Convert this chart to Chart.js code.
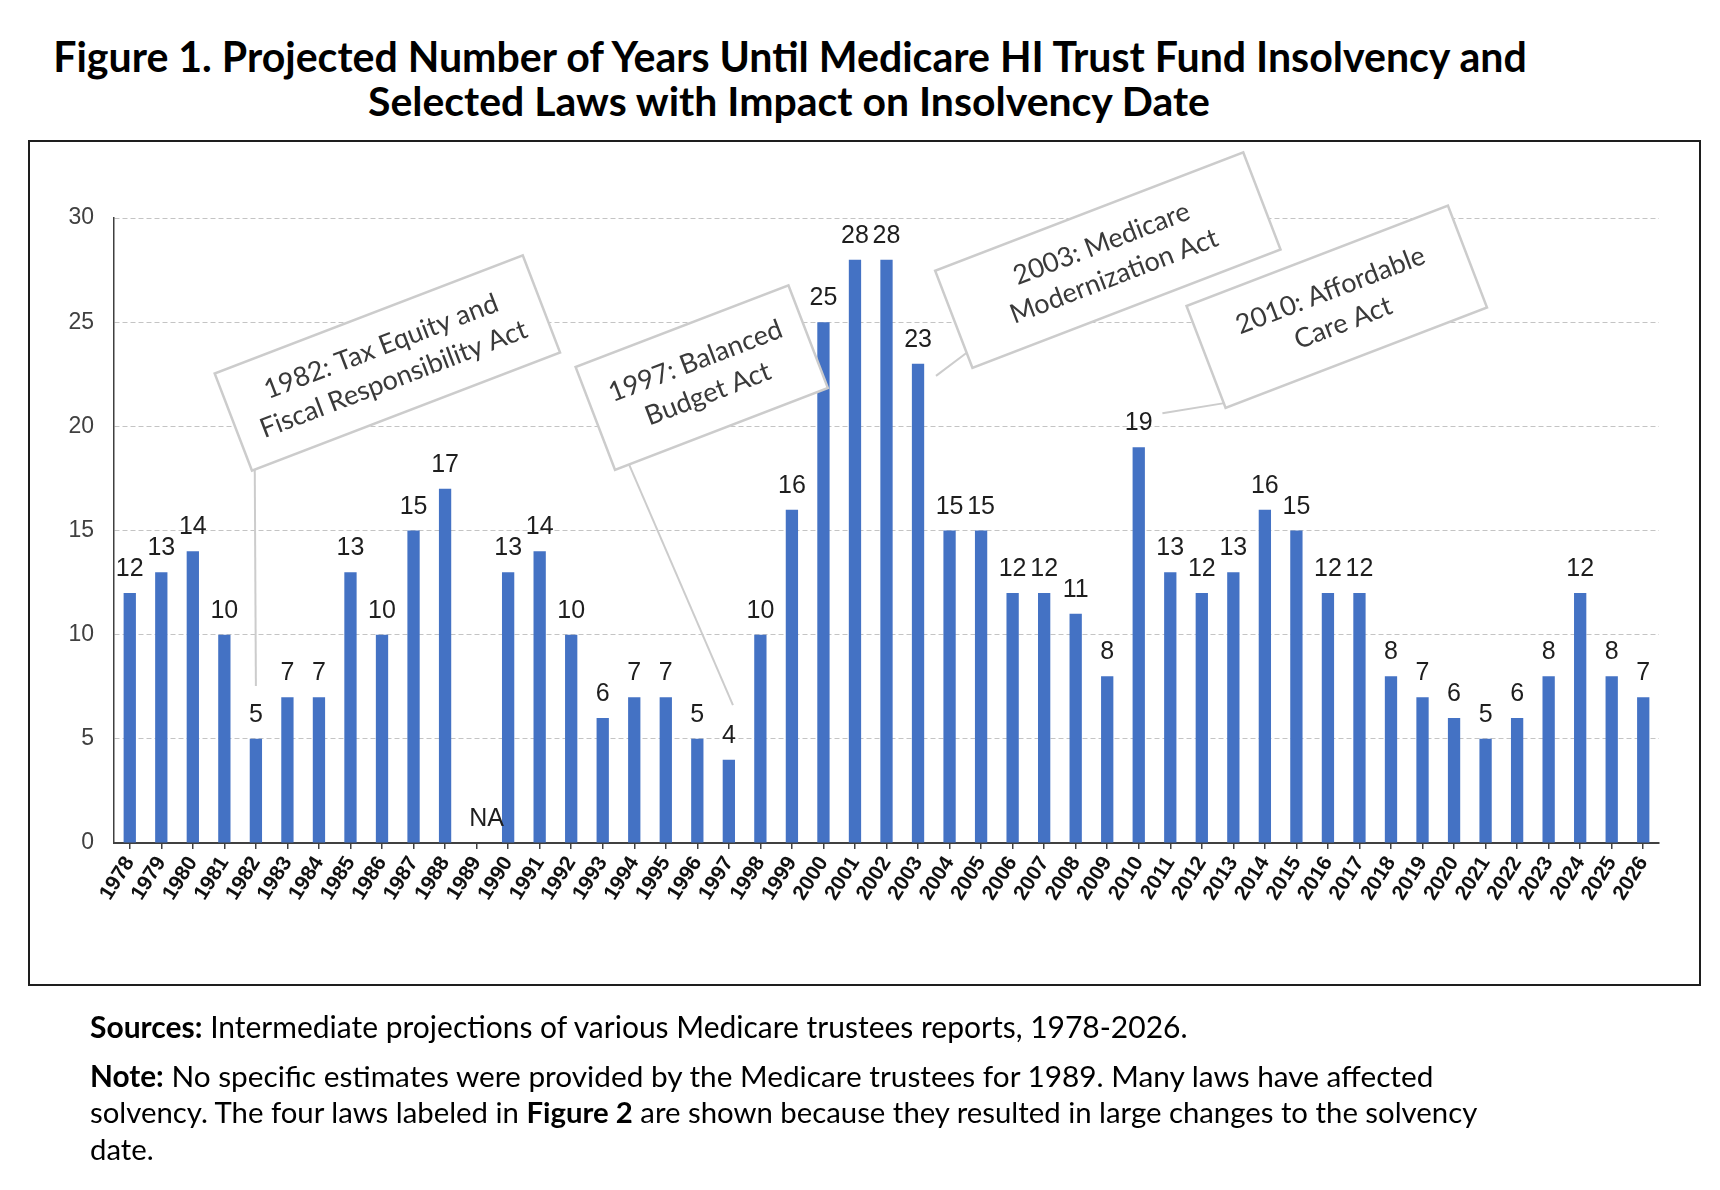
<!DOCTYPE html>
<html>
<head>
<meta charset="utf-8">
<title>Medicare HI Trust Fund Insolvency</title>
<script src="https://cdn.jsdelivr.net/npm/chart.js@4.4.1/dist/chart.umd.min.js"></script>
<style>
  html, body { margin: 0; padding: 0; background: #fff; }
  body { width: 1720px; height: 1190px; position: relative; overflow: hidden; font-family: Lato, "Open Sans", sans-serif; color: #000; }
  .line { position: absolute; white-space: nowrap; line-height: 1; }
  .title { font-weight: 700; }
  #frame { position: absolute; left: 28px; top: 140px; width: 1673px; height: 846px; box-sizing: border-box; border: 2px solid #1e1e1e; }
  #chartWrap { position: absolute; left: 0; top: 0; width: 1720px; height: 1190px; }
</style>
</head>
<body>
<div class="line title" data-w="1474" data-cx="790" data-base="72">Figure 1. Projected Number of Years Until Medicare HI Trust Fund Insolvency and</div>
<div class="line title" data-w="842" data-cx="789" data-base="117">Selected Laws with Impact on Insolvency Date</div>
<div id="frame"></div>
<div id="chartWrap"><canvas id="insolvencyChart" width="1720" height="1190"></canvas></div>
<div class="line note" data-x="90" data-w="1098" data-base="1038"><b>Sources:</b> Intermediate projections of various Medicare trustees reports, 1978-2026.</div>
<div class="line note" data-x="90" data-w="1344" data-base="1087"><b>Note:</b> No specific estimates were provided by the Medicare trustees for 1989. Many laws have affected</div>
<div class="line note" data-x="90" data-w="1388" data-base="1123">solvency. The four laws labeled in <b>Figure 2</b> are shown because they resulted in large changes to the solvency</div>
<div class="line note" data-x="90" data-base="1160" data-same="prev">date.</div>

<script>
// trustees report years
const years = ['1978', '1979', '1980', '1981', '1982', '1983', '1984', '1985', '1986', '1987',
    '1988', '1989', '1990', '1991', '1992', '1993', '1994', '1995', '1996', '1997',
    '1998', '1999', '2000', '2001', '2002', '2003', '2004', '2005', '2006', '2007',
    '2008', '2009', '2010', '2011', '2012', '2013', '2014', '2015', '2016', '2017',
    '2018', '2019', '2020', '2021', '2022', '2023', '2024', '2025', '2026'];

// projected years until insolvency (1989: no estimate)
const yearsToInsolvency = [12, 13, 14, 10, 5, 7, 7, 13, 10, 15,
    17, null, 13, 14, 10, 6, 7, 7, 5, 4,
    10, 16, 25, 28, 28, 23, 15, 15, 12, 12,
    11, 8, 19, 13, 12, 13, 16, 15, 12, 12,
    8, 7, 6, 5, 6, 8, 12, 8, 7];

const yTicks = [0, 5, 10, 15, 20, 25, 30];

const lawYears = ['1982', '1997', '2003', '2010'];
const lawTexts = [
    ['1982: Tax Equity and', 'Fiscal Responsibility Act'],
    ['1997: Balanced', 'Budget Act'],
    ['2003: Medicare', 'Modernization Act'],
    ['2010: Affordable', 'Care Act']
];

// callout layout: box centre in (category index, value), size in px, leader from box-local point to (index, value)
const calloutLayout = [
    { at: [8.17, 23.04], w: 330, h: 104, from: [-162, 52], to: [4, 7.54] },
    { at: [18.14, 22.34], w: 228, h: 110, from: [-99, 55], to: [19.13, 6.62] },
    { at: [31.02, 27.98], w: 330, h: 104, from: [-165, 36], to: [25.57, 22.42] },
    { at: [38.28, 25.74], w: 280, h: 109, from: [-138, 50], to: [32.75, 20.63] }
];
const calloutAngle = -21;

const BLUE = '#4472C4';
const AXIS = '#404040';

let calloutFontSize = 27;

function fitTextLines() {
    let prevSize = 28;
    document.querySelectorAll('.line').forEach(el => {
        const base = 30;
        el.style.fontSize = base + 'px';
        let size;
        if (el.dataset.same === 'prev') {
            size = prevSize;
        } else {
            const w = el.getBoundingClientRect().width;
            size = base * (+el.dataset.w) / w;
        }
        el.style.fontSize = size.toFixed(2) + 'px';
        prevSize = size;
        el.style.top = (+el.dataset.base - 0.887 * size).toFixed(1) + 'px';
        if (el.dataset.cx) {
            const w2 = el.getBoundingClientRect().width;
            el.style.left = (+el.dataset.cx - w2 / 2).toFixed(1) + 'px';
        } else {
            el.style.left = el.dataset.x + 'px';
        }
    });
}

function fitCalloutFont() {
    const c = document.createElement('canvas').getContext('2d');
    c.font = '100px Lato';
    const w = c.measureText('Fiscal Responsibility Act').width;
    calloutFontSize = 100 * 284 / w;
}

const barLabelPlugin = {
    id: 'barLabels',
    afterDatasetsDraw(chart) {
        const { ctx, scales: { x, y } } = chart;
        ctx.save();
        ctx.font = '25px "Liberation Sans", Arial, sans-serif';
        ctx.fillStyle = '#1e1e1e';
        ctx.textAlign = 'center';
        ctx.textBaseline = 'alphabetic';
        yearsToInsolvency.forEach((v, i) => {
            const px = x.getPixelForValue(i);
            if (v === null) {
                ctx.fillText('NA', px + 10, y.getPixelForValue(0) - 17);
            } else {
                ctx.fillText(String(v), px, y.getPixelForValue(v) - 17);
            }
        });
        ctx.restore();
    }
};

const calloutPlugin = {
    id: 'lawCallouts',
    afterDraw(chart) {
        const { ctx, scales: { x, y } } = chart;
        const a = calloutAngle * Math.PI / 180;
        const cos = Math.cos(a), sin = Math.sin(a);
        ctx.save();
        calloutLayout.forEach((c, k) => {
            const cx = x.getPixelForValue(c.at[0]);
            const cy = y.getPixelForValue(c.at[1]);
            const fx = cx + c.from[0] * cos - c.from[1] * sin;
            const fy = cy + c.from[0] * sin + c.from[1] * cos;
            const tx = x.getPixelForValue(c.to[0]);
            const ty = y.getPixelForValue(c.to[1]);

            ctx.strokeStyle = '#cccccc';
            ctx.lineWidth = 2;
            ctx.beginPath();
            ctx.moveTo(fx, fy);
            ctx.lineTo(tx, ty);
            ctx.stroke();

            ctx.save();
            ctx.translate(cx, cy);
            ctx.rotate(a);
            ctx.fillStyle = '#fff';
            ctx.fillRect(-c.w / 2, -c.h / 2, c.w, c.h);
            ctx.lineWidth = 2.5;
            ctx.strokeStyle = '#cccccc';
            ctx.strokeRect(-c.w / 2, -c.h / 2, c.w, c.h);
            ctx.fillStyle = '#3a3a3a';
            ctx.font = calloutFontSize.toFixed(2) + 'px Lato';
            ctx.textAlign = 'center';
            ctx.textBaseline = 'middle';
            const lines = lawTexts[k];
            lines.forEach((t, n) => ctx.fillText(t, 0, (n - (lines.length - 1) / 2) * 35));
            ctx.restore();
        });
        ctx.restore();
    }
};

function drawChart() {
    new Chart(document.getElementById('insolvencyChart'), {
        type: 'bar',
        data: {
            labels: years,
            datasets: [{
                label: 'Years until insolvency',
                data: yearsToInsolvency,
                backgroundColor: BLUE,
                borderWidth: 0,
                barPercentage: 0.39,
                categoryPercentage: 1.0
            }]
        },
        options: {
            responsive: false,
            animation: false,
            devicePixelRatio: 1,
            layout: { padding: { top: 218, right: 61, left: 0, bottom: 247 } },
            plugins: { legend: { display: false }, tooltip: { enabled: false } },
            scales: {
                x: {
                    afterFit: s => { s.height = 100; },
                    grid: { display: true, drawOnChartArea: false, drawTicks: true, tickLength: 6, color: AXIS, lineWidth: 1.5, offset: false },
                    border: { display: true, color: AXIS, width: 2 },
                    ticks: {
                        autoSkip: false, maxRotation: 58, minRotation: 58, padding: 3,
                        color: '#111',
                        font: { family: '"Liberation Sans", Arial, sans-serif', size: 21, weight: 'bold' }
                    }
                },
                y: {
                    min: 0, max: 30,
                    afterFit: s => { s.width = 114; },
                    afterBuildTicks: s => { s.ticks = yTicks.map(v => ({ value: v })); },
                    grid: {
                        drawTicks: false,
                        color: ctx => (ctx.tick && ctx.tick.value === 0) ? 'rgba(0,0,0,0)' : '#c4c4c4',
                        lineWidth: 1
                    },
                    border: { display: true, color: AXIS, width: 1.5, dash: [5, 3] },
                    ticks: {
                        padding: 20,
                        color: AXIS,
                        font: { family: '"Liberation Sans", Arial, sans-serif', size: 23 }
                    }
                }
            }
        },
        plugins: [barLabelPlugin, calloutPlugin]
    });
}

Promise.all([
    document.fonts.load('700 30px Lato'),
    document.fonts.load('30px Lato'),
    document.fonts.load('24px "Liberation Sans"')
]).catch(() => {}).then(() => {
    fitTextLines();
    fitCalloutFont();
    drawChart();
});
</script>
</body>
</html>
